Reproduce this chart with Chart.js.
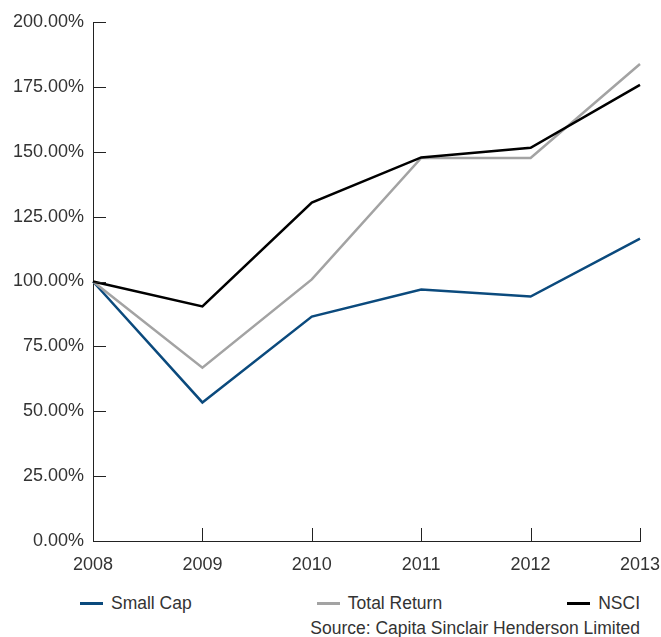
<!DOCTYPE html>
<html>
<head>
<meta charset="utf-8">
<script src="https://cdn.jsdelivr.net/npm/chart.js@4/dist/chart.umd.min.js"></script>
<style>
  body{margin:0;background:#fff;font-family:"Liberation Sans",Arial,sans-serif;color:#333;}
  #wrap{position:relative;width:661px;height:637px;}
  #box{position:absolute;left:0;top:0;width:661px;height:580px;}
  #leyenda{position:absolute;left:80px;width:560px;top:593px;display:flex;justify-content:space-between;font-size:17.5px;}
  #leyenda span.item{display:flex;align-items:center;}
  #leyenda i{display:inline-block;width:23px;height:3px;margin-right:8px;}
  #fuente{position:absolute;right:21px;top:618px;font-size:17.5px;}
</style>
</head>
<body>
<div id="wrap">
  <div id="box"><canvas id="grafico"></canvas></div>
  <div id="leyenda"></div>
  <div id="fuente">Source: Capita Sinclair Henderson Limited</div>
</div>
<script>
// Datos
const anios=["2008","2009","2010","2011","2012","2013"];
const smallCap=[100,53.4,86.5,96.9,94.2,116.5];
const totalReturn=[100,66.8,100.8,147.6,147.6,183.8];
const nsci=[100,90.4,130.4,147.8,151.5,175.8];
const series=[
  {label:"Small Cap",data:smallCap,color:"#0b4a7d",order:2},
  {label:"Total Return",data:totalReturn,color:"#a3a3a3",order:1},
  {label:"NSCI",data:nsci,color:"#000000",order:0}
];

// Marcas cortas hacia dentro del area
const marcasInternas={
  id:"marcasInternas",
  afterDraw(chart){
    const {ctx,chartArea,scales}=chart;
    ctx.save();
    ctx.strokeStyle="#222";ctx.lineWidth=1;
    scales.y.ticks.forEach((t,i)=>{
      const y=Math.round(scales.y.getPixelForTick(i))+0.5;
      ctx.beginPath();ctx.moveTo(chartArea.left,y);ctx.lineTo(chartArea.left+13,y);ctx.stroke();
    });
    scales.x.ticks.forEach((t,i)=>{
      if(i===0) return;
      const x=Math.round(scales.x.getPixelForTick(i))+0.5;
      ctx.beginPath();ctx.moveTo(x,chartArea.bottom);ctx.lineTo(x,chartArea.bottom-13);ctx.stroke();
    });
    ctx.restore();
  }
};

const fuenteEje={family:"'Liberation Sans', Arial, sans-serif",size:18};

const chart=new Chart(document.getElementById("grafico"),{
  type:"line",
  data:{
    labels:anios,
    datasets:series.map(s=>({label:s.label,data:s.data,borderColor:s.color,backgroundColor:s.color,
      borderWidth:2.5,pointRadius:0,tension:0,fill:false,order:s.order}))
  },
  options:{
    responsive:true,maintainAspectRatio:false,animation:false,
    layout:{padding:{top:22,right:21,left:0,bottom:0}},
    plugins:{legend:{display:false},tooltip:{enabled:false}},
    scales:{
      x:{
        offset:false,
        grid:{display:false,drawTicks:false},
        border:{display:true,color:"#222",width:1},
        ticks:{color:"#333",font:fuenteEje,padding:13,maxRotation:0,autoSkip:false},
        afterFit(s){s.height=39;s.paddingLeft=0;s.paddingRight=0;}
      },
      y:{
        min:0,max:200,
        grid:{display:false,drawTicks:false},
        border:{display:true,color:"#222",width:1},
        ticks:{stepSize:25,color:"#333",font:fuenteEje,padding:9,
          callback:v=>v.toFixed(2)+"%"},
        afterFit(s){s.width=93;s.paddingTop=0;s.paddingBottom=0;}
      }
    }
  },
  plugins:[marcasInternas]
});

// Leyenda
const leyenda=document.getElementById("leyenda");
series.forEach(s=>{
  const item=document.createElement("span");
  item.className="item";
  item.innerHTML=`<i style="background:${s.color}"></i>${s.label}`;
  leyenda.appendChild(item);
});
</script>
</body>
</html>
